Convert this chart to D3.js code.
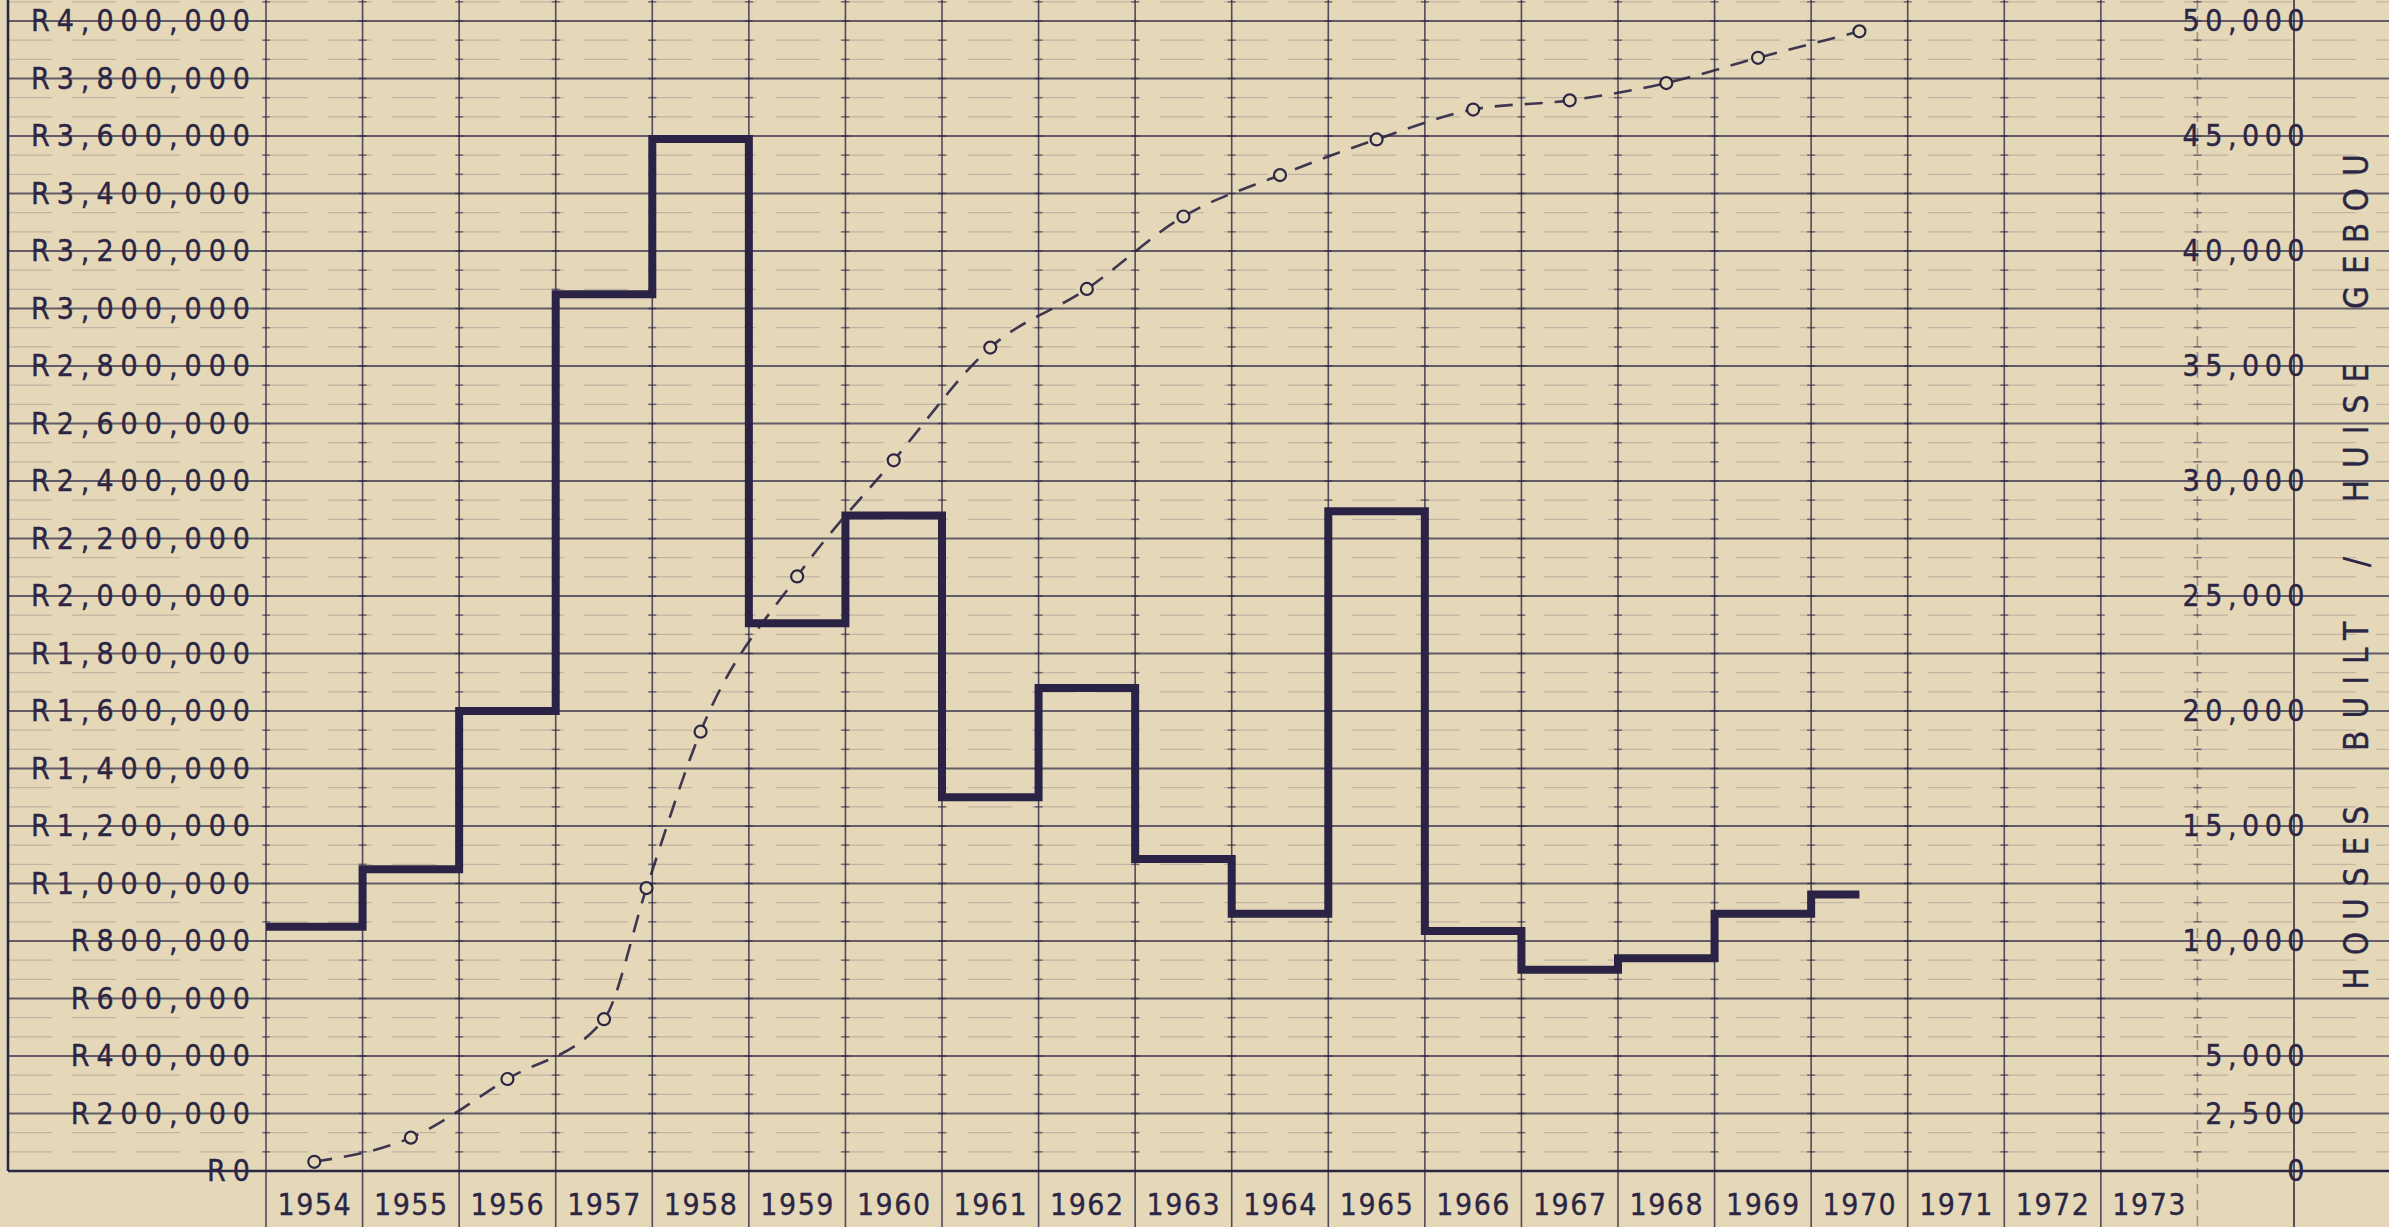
<!DOCTYPE html>
<html>
<head>
<meta charset="utf-8">
<script src="https://cdn.jsdelivr.net/npm/d3@7"></script>
<style>
  html, body { margin: 0; padding: 0; background: #e5d8b9; }
  svg { display: block; }
  text { font-family: "Liberation Sans Narrow", "DejaVu Sans Condensed", "Liberation Sans", sans-serif; fill: #2c2645; }
</style>
</head>
<body>
<script>
// ---------- data ----------
const yearLabels = ["1954","1955","1956","1957","1958","1959","1960","1961","1962","1963",
                    "1964","1965","1966","1967","1968","1969","1970","1971","1972","1973"];
const yearStarts = [1954,1955,1956,1957,1958,1959,1960,1961,1962,1963,
                    1964,1965,1966,1967,1968,1969,1970,1971,1972,1973];

// money spent per year (Rand) — stepped line
const spendYears  = [1954,1955,1956,1957,1958,1959,1960,1961,1962,1963,1964,1965,1966,1967,1968,1969,1970];
const spendValues = [850000,1050000,1600000,3050000,3590000,1905000,2280000,1300000,1680000,
                     1085000,895000,2295000,835000,700000,740000,895000,962000];
const spendEnd = 1970.5;

// cumulative houses built — dashed line with open circles
const housePos    = [1954.5,1955.5,1956.5,1957.5,1957.94,1958.5,1959.5,1960.5,1961.5,1962.5,
                     1963.5,1964.5,1965.5,1966.5,1967.5,1968.5,1969.45,1970.5];
const houseValues = [400,1450,4000,6600,12300,19100,25850,30900,35800,38350,
                     41500,43300,44850,46150,46550,47300,48400,49550];

// axis ticks
const randTickValues = [0,200000,400000,600000,800000,1000000,1200000,1400000,1600000,1800000,
                        2000000,2200000,2400000,2600000,2800000,3000000,3200000,3400000,3600000,3800000,4000000];
const randTickLabels = ["R0","R200,000","R400,000","R600,000","R800,000","R1,000,000","R1,200,000",
                        "R1,400,000","R1,600,000","R1,800,000","R2,000,000","R2,200,000","R2,400,000",
                        "R2,600,000","R2,800,000","R3,000,000","R3,200,000","R3,400,000","R3,600,000",
                        "R3,800,000","R4,000,000"];
const houseTickValues = [0,2500,5000,10000,15000,20000,25000,30000,35000,40000,45000,50000];
const houseTickLabels = ["0","2,500","5,000","10,000","15,000","20,000","25,000","30,000",
                         "35,000","40,000","45,000","50,000"];
const rightTitle = "HOUSES  BUILT  /  HUISE  GEBOU";

// ---------- layout ----------
const W = 2389, H = 1227;
const ink = "#2c2645";
const paper = "#e5d8b9";
const plotLeft = 266, plotRight = 2294, baseY = 1171, topY = 21;

const x  = d3.scaleLinear().domain([1954, 1975]).range([plotLeft, plotRight]);
const yL = d3.scaleLinear().domain([0, 4000000]).range([baseY, topY]);
const yR = d3.scaleLinear().domain([0, 50000]).range([baseY, topY]);

const svg = d3.select("body").append("svg").attr("width", W).attr("height", H);
svg.append("rect").attr("width", W).attr("height", H).attr("fill", paper);

// ---------- grid ----------
const grid = svg.append("g");
const majorStep = 200000;
const minorVals = [];
for (let v = 0; v <= 4000000 + 1; v += majorStep / 3) {
  if (Math.abs(v / majorStep - Math.round(v / majorStep)) > 0.01) minorVals.push(v);
}
minorVals.push(4000000 + majorStep / 3);

grid.selectAll("line.minor").data(minorVals).join("line")
  .attr("x1", 8).attr("x2", W)
  .attr("y1", d => yL(d)).attr("y2", d => yL(d))
  .attr("stroke", ink).attr("stroke-width", 1.2).attr("stroke-opacity", 0.2)
  .attr("stroke-dasharray", "44 20");

grid.selectAll("line.major").data(randTickValues.slice(1)).join("line")
  .attr("x1", 8).attr("x2", W)
  .attr("y1", d => yL(d)).attr("y2", d => yL(d))
  .attr("stroke", ink).attr("stroke-width", 1.8).attr("stroke-opacity", 0.7);

// column lines (year boundaries)
const colBounds = yearStarts.concat([1974]);
grid.selectAll("line.col").data(colBounds).join("line")
  .attr("x1", d => x(d)).attr("x2", d => x(d))
  .attr("y1", 0).attr("y2", H)
  .attr("stroke", ink).attr("stroke-width", 1.6)
  .attr("stroke-opacity", d => d === 1974 ? 0.4 : 0.8)
  .attr("stroke-dasharray", d => d === 1974 ? "10 6" : null);

// small cross ticks on column lines at grid positions
const crossData = [];
colBounds.forEach(c => minorVals.concat(randTickValues).forEach(v => crossData.push([c, v])));
grid.selectAll("line.cross").data(crossData).join("line")
  .attr("x1", d => x(d[0]) - 4).attr("x2", d => x(d[0]) + 4)
  .attr("y1", d => yL(d[1])).attr("y2", d => yL(d[1]))
  .attr("stroke", ink).attr("stroke-width", 1.6).attr("stroke-opacity", 0.55);

// axes frame
svg.append("line").attr("x1", 8).attr("x2", 8).attr("y1", 0).attr("y2", baseY)
  .attr("stroke", ink).attr("stroke-width", 2.6);
svg.append("line").attr("x1", 8).attr("x2", W).attr("y1", baseY).attr("y2", baseY)
  .attr("stroke", ink).attr("stroke-width", 2.6);
svg.append("line").attr("x1", plotRight).attr("x2", plotRight).attr("y1", 0).attr("y2", H)
  .attr("stroke", ink).attr("stroke-width", 1.8).attr("stroke-opacity", 0.85);

// ---------- axes labels ----------
const leftAxis = d3.axisLeft(yL).tickValues(randTickValues)
  .tickFormat((d, i) => randTickLabels[i]).tickSize(0).tickPadding(0);
const gl = svg.append("g").attr("transform", "translate(257,0)").call(leftAxis);
gl.select(".domain").remove();
gl.selectAll("text").attr("font-size", 30).attr("letter-spacing", 7)
  .attr("fill", ink).attr("stroke", ink).attr("stroke-width", 0.4).attr("font-family", null);

const rightAxis = d3.axisLeft(yR).tickValues(houseTickValues)
  .tickFormat((d, i) => houseTickLabels[i]).tickSize(0).tickPadding(0);
const gr = svg.append("g").attr("transform", "translate(2310,0)").call(rightAxis);
gr.select(".domain").remove();
gr.selectAll("text").attr("font-size", 30).attr("letter-spacing", 5.5)
  .attr("fill", ink).attr("stroke", ink).attr("stroke-width", 0.4).attr("font-family", null);

const bottomAxis = d3.axisBottom(x).tickValues(yearStarts.map(d => d + 0.5))
  .tickFormat((d, i) => yearLabels[i]).tickSize(0).tickPadding(0);
const gb = svg.append("g").attr("transform", "translate(0,1215)").call(bottomAxis);
gb.select(".domain").remove();
gb.selectAll("text").attr("font-size", 30).attr("letter-spacing", 1.5)
  .attr("dy", 0).attr("fill", ink).attr("stroke", ink).attr("stroke-width", 0.3).attr("font-family", null);

// right title
svg.append("text")
  .attr("transform", "translate(2368,566) rotate(-90)")
  .attr("text-anchor", "middle")
  .attr("font-size", 33).attr("letter-spacing", 12)
  .style("white-space", "pre")
  .attr("fill", ink).attr("stroke", ink).attr("stroke-width", 0.4)
  .text(rightTitle);

// ---------- cumulative houses (dashed) ----------
const housePts = housePos.map((p, i) => [p, houseValues[i]]);
svg.append("path")
  .datum(housePts)
  .attr("d", d3.line().x(d => x(d[0])).y(d => yR(d[1])).curve(d3.curveMonotoneX))
  .attr("fill", "none").attr("stroke", ink).attr("stroke-width", 2.6)
  .attr("stroke-opacity", 0.9).attr("stroke-dasharray", "18 12");

svg.selectAll("circle.h").data(housePts).join("circle")
  .attr("cx", d => x(d[0])).attr("cy", d => yR(d[1])).attr("r", 6)
  .attr("fill", paper).attr("stroke", ink).attr("stroke-width", 2.2);

// ---------- spending step line ----------
const stepPts = spendYears.map((yr, i) => [yr, spendValues[i]]);
stepPts.push([spendEnd, spendValues[spendValues.length - 1]]);
svg.append("path")
  .datum(stepPts)
  .attr("d", d3.line().x(d => x(d[0])).y(d => yL(d[1])).curve(d3.curveStepAfter))
  .attr("fill", "none").attr("stroke", "#2a2346").attr("stroke-width", 8)
  .attr("stroke-linejoin", "miter").attr("stroke-linecap", "butt");
</script>
</body>
</html>
